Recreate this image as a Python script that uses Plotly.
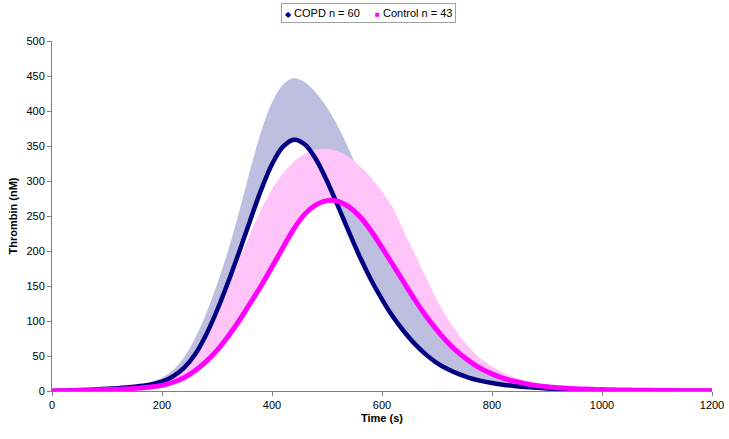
import plotly.graph_objects as go

time_s = list(range(0, 1201, 20))

copd_mean = [0, 0.5, 1, 1.6, 2.3, 3.1, 4, 5.2, 7, 9.5,
             13.5, 21, 33, 52, 80, 115, 155, 198, 243, 287,
             324, 349, 359, 352, 331, 300, 264, 227, 191, 159,
             131, 106, 85, 67, 52, 40, 31, 24, 18.5, 14.5,
             11.5, 9, 7.2, 5.8, 4.6, 3.7, 3, 2.4, 2, 1.6,
             1.3, 1.1, 0.9, 0.75, 0.6, 0.5, 0.4, 0.3, 0.25, 0.2, 0.15]
copd_upper = [0, 0.6, 1.2, 2, 2.8, 3.8, 5, 6.6, 9, 13,
              19, 30, 48, 75, 110, 152, 200, 255, 315, 370,
              412, 438, 447, 441, 426, 405, 378, 345, 308, 270,
              235, 203, 174, 147, 123, 102, 83, 67, 53, 41,
              31, 23, 17, 12.5, 9, 6.5, 4.8, 3.6, 2.8, 2.2,
              1.7, 1.4, 1.1, 0.9, 0.75, 0.6, 0.5, 0.4, 0.3, 0.25, 0.2]
ctrl_mean = [0, 0.3, 0.6, 1, 1.5, 2, 2.6, 3.3, 4.3, 5.8,
             8, 12.5, 19, 29, 42, 58, 78, 100, 125, 150,
             177, 205, 232, 253, 266, 272, 271, 263, 249, 229,
             205, 180, 155, 130, 107, 87, 69, 54, 42, 32,
             24.5, 18.5, 14, 10.5, 8, 6, 4.7, 3.7, 3, 2.5,
             2, 1.7, 1.4, 1.2, 1, 0.8, 0.6, 0.5, 0.4, 0.3, 0.2]
ctrl_upper = [0, 0.4, 0.8, 1.3, 2, 2.8, 3.7, 4.8, 6.5, 9,
              12.5, 19.5, 31, 49, 75, 108, 146, 186, 224, 259,
              288, 311, 328, 339, 345, 346, 342, 334, 321, 305,
              285, 261, 228, 195, 162, 130, 103, 80, 61, 46,
              35, 26, 20, 15, 11, 8.5, 6.5, 5, 4, 3.1,
              2.4, 1.9, 1.5, 1.2, 1, 0.8, 0.6, 0.5, 0.4, 0.3, 0.2]

series_names = ["COPD n = 60", "Control n = 43"]
x_ticks = [0, 200, 400, 600, 800, 1000, 1200]
y_ticks = [0, 50, 100, 150, 200, 250, 300, 350, 400, 450, 500]

NAVY = "#000080"
MAGENTA = "#FF00FF"
BLUE_BAND = "#BDBEE0"
PINK_BAND = "#FFC4F8"
FONT = "Arial, Liberation Sans, sans-serif"

fig = go.Figure()

def band(mean, upper, color):
    fig.add_trace(go.Scatter(x=time_s, y=mean, mode="lines",
                             line=dict(width=0, color=color, shape="spline", smoothing=0.8),
                             showlegend=False, hoverinfo="skip"))
    fig.add_trace(go.Scatter(x=time_s, y=upper, mode="lines", fill="tonexty",
                             fillcolor=color,
                             line=dict(width=0, color=color, shape="spline", smoothing=0.8),
                             showlegend=False, hoverinfo="skip"))

band(copd_mean, copd_upper, BLUE_BAND)
band(ctrl_mean, ctrl_upper, PINK_BAND)

fig.add_trace(go.Scatter(x=time_s, y=copd_mean, mode="lines", name=series_names[0],
                         line=dict(width=4.5, color=NAVY, shape="spline", smoothing=0.8),
                         showlegend=False))
fig.add_trace(go.Scatter(x=time_s, y=ctrl_mean, mode="lines", name=series_names[1],
                         line=dict(width=5, color=MAGENTA, shape="spline", smoothing=0.8),
                         showlegend=False))

# compact Excel-style legend box (marker glyph + series name)
legend_text = (
    f'<span style="color:{NAVY};font-size:8px">◆</span> {series_names[0]}'
    f'&nbsp;&nbsp;&nbsp;&nbsp;&nbsp;'
    f'<span style="color:{MAGENTA};font-size:8px">■</span> {series_names[1]}'
)
fig.add_annotation(text=legend_text, xref="paper", yref="paper",
                   x=0.48, xanchor="center", y=1.108, yanchor="top",
                   showarrow=False, font=dict(family=FONT, size=11, color="black"),
                   bordercolor="#A0A0A0", borderwidth=1, borderpad=3, bgcolor="white")

axis_common = dict(showline=True, linecolor="#808080", linewidth=1,
                   ticks="outside", ticklen=4, tickcolor="#808080",
                   showgrid=False, zeroline=False, automargin=False,
                   tickfont=dict(family=FONT, size=11, color="black"))

fig.update_layout(
    width=729, height=439,
    margin=dict(l=52, r=17, t=41, b=48, autoexpand=False),
    paper_bgcolor="white", plot_bgcolor="white",
    font=dict(family=FONT, size=11, color="black"),
    showlegend=False,
    xaxis=dict(range=[0, 1200], tickvals=x_ticks,
               title=dict(text="<b>Time (s)</b>", font=dict(family=FONT, size=11), standoff=4),
               **axis_common),
    yaxis=dict(range=[0, 500], tickvals=y_ticks,
               title=dict(text="<b>Thrombin (nM)</b>", font=dict(family=FONT, size=11), standoff=6),
               **axis_common),
)

fig.write_html("out.html", config={"displayModeBar": False},
               post_script="document.body.style.margin='0';document.body.style.overflow='hidden';")
